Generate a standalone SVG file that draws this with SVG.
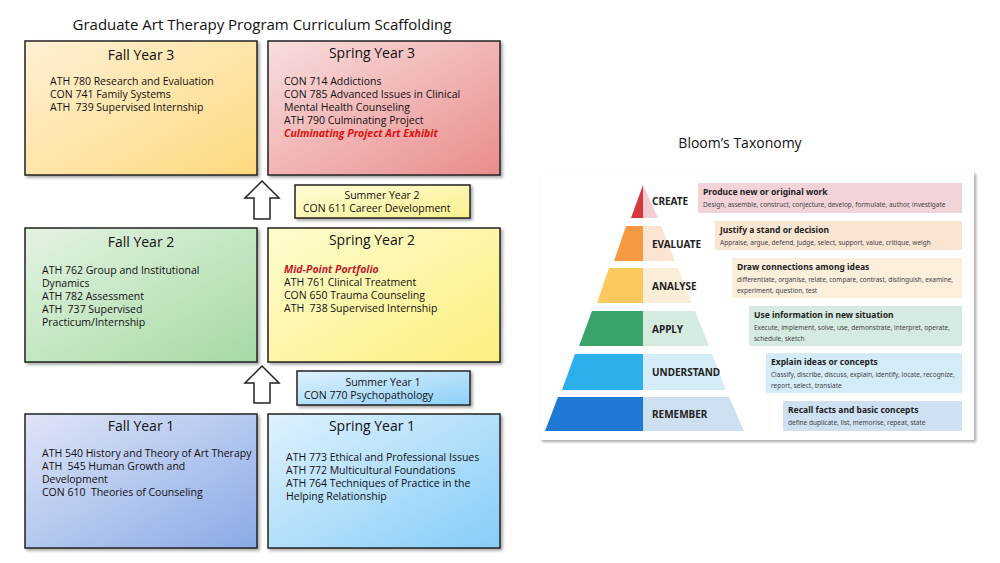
<svg xmlns="http://www.w3.org/2000/svg" width="1000" height="563" viewBox="0 0 1000 563">
<defs>
<linearGradient id="gFY3" x1="0" y1="0" x2="1" y2="1"><stop offset="0" stop-color="#fff0d4"/><stop offset="1" stop-color="#fdd97e"/></linearGradient>
<linearGradient id="gSY3" x1="0" y1="0" x2="1" y2="1"><stop offset="0" stop-color="#f8dede"/><stop offset="1" stop-color="#ea8c8c"/></linearGradient>
<linearGradient id="gFY2" x1="0" y1="0" x2="1" y2="1"><stop offset="0" stop-color="#e4f3e2"/><stop offset="1" stop-color="#a6d9a4"/></linearGradient>
<linearGradient id="gSY2" x1="0" y1="0" x2="1" y2="1"><stop offset="0" stop-color="#fffcd0"/><stop offset="1" stop-color="#fbef7e"/></linearGradient>
<linearGradient id="gFY1" x1="0" y1="0" x2="1" y2="1"><stop offset="0" stop-color="#dfe5f7"/><stop offset="1" stop-color="#8aaae6"/></linearGradient>
<linearGradient id="gSY1" x1="0" y1="0" x2="1" y2="1"><stop offset="0" stop-color="#dff1fd"/><stop offset="1" stop-color="#86cdf8"/></linearGradient>
<linearGradient id="gSu2" x1="0" y1="0" x2="1" y2="1"><stop offset="0" stop-color="#fffcd8"/><stop offset="1" stop-color="#fbf08c"/></linearGradient>
<linearGradient id="gSu1" x1="0" y1="0" x2="1" y2="1"><stop offset="0" stop-color="#dff1fd"/><stop offset="1" stop-color="#8ed0f8"/></linearGradient>
<filter id="sh" x="-10%" y="-10%" width="130%" height="130%"><feDropShadow dx="2" dy="2" stdDeviation="1.5" flood-color="#000" flood-opacity="0.35"/></filter>
</defs>
<style>
.box{stroke:#222;stroke-width:1.5;filter:url(#sh)}
.h{font-family:"Open Sans","Liberation Sans",sans-serif;font-size:14px;fill:#111;text-anchor:middle}
.t{font-family:"Open Sans","Liberation Sans",sans-serif;font-size:10.5px;fill:#111;white-space:pre}
.red{fill:#e01010;font-style:italic;font-weight:bold}
.arr{fill:#fff;stroke:#222;stroke-width:1.5}
.lv{font-family:"Noto Sans","Liberation Sans",sans-serif;font-size:10px;font-weight:bold;fill:#222}
.bh{font-family:"Noto Sans","Liberation Sans",sans-serif;font-size:8.5px;font-weight:bold;fill:#222}
.bt{font-family:"Noto Sans","Liberation Sans",sans-serif;font-size:6.5px;fill:#444}
</style>
<rect width="1000" height="563" fill="#fff"/>
<text x="262" y="30" class="h" style="font-size:15px">Graduate Art Therapy Program Curriculum Scaffolding</text>

<g id="fall3"><rect class="box" x="25" y="41" width="232" height="134" fill="url(#gFY3)"/>
<text class="h" x="141" y="60">Fall Year 3</text>
<text class="t" x="50" y="85">ATH 780 Research and Evaluation</text>
<text class="t" x="50" y="98">CON 741 Family Systems</text>
<text class="t" x="50" y="111">ATH  739 Supervised Internship</text></g>

<g id="spring3"><rect class="box" x="268" y="41" width="232" height="134" fill="url(#gSY3)"/>
<text class="h" x="372" y="58">Spring Year 3</text>
<text class="t" x="284" y="85">CON 714 Addictions</text>
<text class="t" x="284" y="98">CON 785 Advanced Issues in Clinical</text>
<text class="t" x="284" y="111">Mental Health Counseling</text>
<text class="t" x="284" y="124">ATH 790 Culminating Project</text>
<text class="t red" x="284" y="137">Culminating Project Art Exhibit</text></g>

<g id="summer2"><rect class="box" x="295" y="185" width="175" height="33" fill="url(#gSu2)"/>
<text class="t" x="382" y="199" text-anchor="middle">Summer Year 2</text>
<text class="t" x="303" y="212">CON 611 Career Development</text></g>

<g id="fall2"><rect class="box" x="25" y="228" width="232" height="134" fill="url(#gFY2)"/>
<text class="h" x="141" y="247">Fall Year 2</text>
<text class="t" x="42" y="274">ATH 762 Group and Institutional</text>
<text class="t" x="42" y="287">Dynamics</text>
<text class="t" x="42" y="300">ATH 782 Assessment</text>
<text class="t" x="42" y="313">ATH  737 Supervised</text>
<text class="t" x="42" y="326">Practicum/Internship</text></g>

<g id="spring2"><rect class="box" x="268" y="228" width="232" height="134" fill="url(#gSY2)"/>
<text class="h" x="372" y="245">Spring Year 2</text>
<text class="t red" x="284" y="273" style="fill:#c0202a">Mid-Point Portfolio</text>
<text class="t" x="284" y="286">ATH 761 Clinical Treatment</text>
<text class="t" x="284" y="299">CON 650 Trauma Counseling</text>
<text class="t" x="284" y="312">ATH  738 Supervised Internship</text></g>

<g id="summer1"><rect class="box" x="297" y="371" width="173" height="34" fill="url(#gSu1)"/>
<text class="t" x="383" y="386" text-anchor="middle">Summer Year 1</text>
<text class="t" x="304" y="399">CON 770 Psychopathology</text></g>

<g id="fall1"><rect class="box" x="25" y="414" width="232" height="134" fill="url(#gFY1)"/>
<text class="h" x="141" y="431">Fall Year 1</text>
<text class="t" x="42" y="457">ATH 540 History and Theory of Art Therapy</text>
<text class="t" x="42" y="470">ATH  545 Human Growth and</text>
<text class="t" x="42" y="483">Development</text>
<text class="t" x="42" y="496">CON 610  Theories of Counseling</text></g>

<g id="spring1"><rect class="box" x="268" y="414" width="232" height="134" fill="url(#gSY1)"/>
<text class="h" x="372" y="431">Spring Year 1</text>
<text class="t" x="286" y="461">ATH 773 Ethical and Professional Issues</text>
<text class="t" x="286" y="474">ATH 772 Multicultural Foundations</text>
<text class="t" x="286" y="487">ATH 764 Techniques of Practice in the</text>
<text class="t" x="286" y="500">Helping Relationship</text></g>

<g id="connectors">
<path class="arr" d="M262 181 L279 198 L270 198 L270 219 L254 219 L254 198 L245 198 Z"/>
<path class="arr" d="M262 366 L279 383 L270 383 L270 403 L254 403 L254 383 L245 383 Z"/>
</g>

<g id="bloom">
<text x="740" y="148" class="h" style="font-size:14px">Bloom’s Taxonomy</text>
<rect x="540" y="172" width="434" height="268" fill="#fff" filter="url(#sh)"/>
<polygon points="643,185 643,218 631,218" fill="#d7373f"/>
<polygon points="643,185 658,218 643,218" fill="#f2cdd3"/>
<polygon points="626,226 643,226 643,261 614,261" fill="#f59a42"/>
<polygon points="643,226 661,226 675,261 643,261" fill="#fbe4d2"/>
<polygon points="609,268 643,268 643,303 597,303" fill="#fbc95d"/>
<polygon points="643,268 678,268 692,303 643,303" fill="#fbeed8"/>
<polygon points="592,311 643,311 643,346 579,346" fill="#3aa36a"/>
<polygon points="643,311 695,311 709,346 643,346" fill="#d5ebdf"/>
<polygon points="575,354 643,354 643,390 562,390" fill="#2bb0ec"/>
<polygon points="643,354 712,354 726,390 643,390" fill="#d3ecf8"/>
<polygon points="558,397 643,397 643,431 545,431" fill="#1e78d4"/>
<polygon points="643,397 729,397 744,431 643,431" fill="#cde0f2"/>
<text class="lv" x="652" y="205">CREATE</text>
<text class="lv" x="652" y="248">EVALUATE</text>
<text class="lv" x="652" y="290">ANALYSE</text>
<text class="lv" x="652" y="333">APPLY</text>
<text class="lv" x="652" y="376">UNDERSTAND</text>
<text class="lv" x="652" y="418">REMEMBER</text>
<rect x="698" y="183" width="264" height="30" fill="#f2d3d8"/>
<text class="bh" x="703" y="195">Produce new or original work</text>
<text class="bt" x="703" y="207">Design, assemble, construct, conjecture, develop, formulate, author, investigate</text>
<rect x="715" y="221" width="247" height="29" fill="#fae5d3"/>
<text class="bh" x="720" y="233">Justify a stand or decision</text>
<text class="bt" x="720" y="245">Appraise, argue, defend, judge, select, support, value, critique, weigh</text>
<rect x="732" y="258" width="230" height="40" fill="#fbeedb"/>
<text class="bh" x="737" y="270">Draw connections among ideas</text>
<text class="bt" x="737" y="282">differentiate, organise, relate, compare, contrast, distinguish, examine,</text>
<text class="bt" x="737" y="293">experiment, question, test</text>
<rect x="749" y="306" width="213" height="40" fill="#d5ebe0"/>
<text class="bh" x="754" y="318">Use information in new situation</text>
<text class="bt" x="754" y="330">Execute, implement, solve, use, demonstrate, interpret, operate,</text>
<text class="bt" x="754" y="341">schedule, sketch</text>
<rect x="766" y="353" width="196" height="40" fill="#d4ecf7"/>
<text class="bh" x="771" y="365">Explain ideas or concepts</text>
<text class="bt" x="771" y="377">Classify, discribe, discuss, explain, identify, locate, recognize,</text>
<text class="bt" x="771" y="388">report, select, translate</text>
<rect x="783" y="401" width="179" height="30" fill="#cfe0f2"/>
<text class="bh" x="788" y="413">Recall facts and basic concepts</text>
<text class="bt" x="788" y="425">define duplicate, list, memorise, repeat, state</text>
</g>
</svg>
